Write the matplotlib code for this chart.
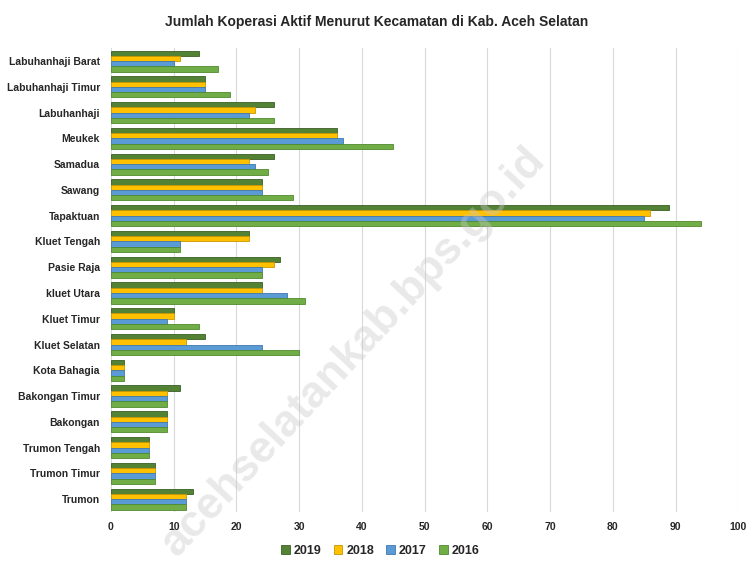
import matplotlib.pyplot as plt
import numpy as np

plt.rcParams['font.family'] = ['Liberation Sans', 'DejaVu Sans']

# Kecamatan, top to bottom as in the chart
kecamatan = [
    'Labuhanhaji Barat', 'Labuhanhaji Timur', 'Labuhanhaji', 'Meukek',
    'Samadua', 'Sawang', 'Tapaktuan', 'Kluet Tengah', 'Pasie Raja',
    'kluet Utara', 'Kluet Timur', 'Kluet Selatan', 'Kota Bahagia',
    'Bakongan Timur', 'Bakongan', 'Trumon Tengah', 'Trumon Timur', 'Trumon'
]

koperasi_2019 = [14, 15, 26, 36, 26, 24, 89, 22, 27, 24, 10, 15, 2, 11, 9, 6, 7, 13]
koperasi_2018 = [11, 15, 23, 36, 22, 24, 86, 22, 26, 24, 10, 12, 2, 9, 9, 6, 7, 12]
koperasi_2017 = [10, 15, 22, 37, 23, 24, 85, 11, 24, 28, 9, 24, 2, 9, 9, 6, 7, 12]
koperasi_2016 = [17, 19, 26, 45, 25, 29, 94, 11, 24, 31, 14, 30, 2, 9, 9, 6, 7, 12]

series = [
    ('2019', koperasi_2019, '#548235', '#3B5E25'),
    ('2018', koperasi_2018, '#FFC000', '#C99700'),
    ('2017', koperasi_2017, '#5B9BD5', '#3F78AD'),
    ('2016', koperasi_2016, '#70AD47', '#4F8A2E'),
]

fig = plt.figure(figsize=(7.53, 5.67), dpi=100)
ax = fig.add_axes([0.1474, 0.097, 0.833, 0.818])

y = np.arange(len(kecamatan))
h = 0.205
for i, (lab, vals, col, edge) in enumerate(series):
    ax.barh(y + (i - 1.5) * h, vals, height=h, color=col, edgecolor=edge,
            linewidth=0.6, label=lab, zorder=3)

ax.set_yticks(y)
ax.set_yticklabels(kecamatan, fontsize=7.5)
ax.set_ylim(len(kecamatan) - 0.5, -0.5)
ax.set_xlim(0, 100)
ax.set_xticks(np.arange(0, 101, 10))
ax.tick_params(axis='x', labelsize=7.5, length=0, pad=7)
ax.tick_params(axis='y', length=0, pad=8)
for lbl in ax.get_xticklabels() + ax.get_yticklabels():
    lbl.set_fontweight('bold')
    lbl.set_color('#262626')
ax.grid(axis='x', color='#D9D9D9', linewidth=0.8, zorder=0)
for s in ax.spines.values():
    s.set_visible(False)

fig.text(0.5, 0.962, 'Jumlah Koperasi Aktif Menurut Kecamatan di Kab. Aceh Selatan',
         ha='center', va='center', fontsize=10, fontweight='bold', color='#262626')

# watermark
fig.text(0.47, 0.38, 'acehselatankab.bps.go.id', rotation=47, ha='center', va='center',
         fontsize=32, fontweight='bold', color='#C8C8C8', alpha=0.4, zorder=0)

leg = fig.legend(loc='center', bbox_to_anchor=(0.505, 0.028), ncol=4, frameon=False,
                 fontsize=9, handlelength=0.7, handleheight=0.7, columnspacing=1.0,
                 handletextpad=0.3)
for t in leg.get_texts():
    t.set_fontweight('bold')
    t.set_color('#262626')

fig.savefig('out.png', dpi=100)
